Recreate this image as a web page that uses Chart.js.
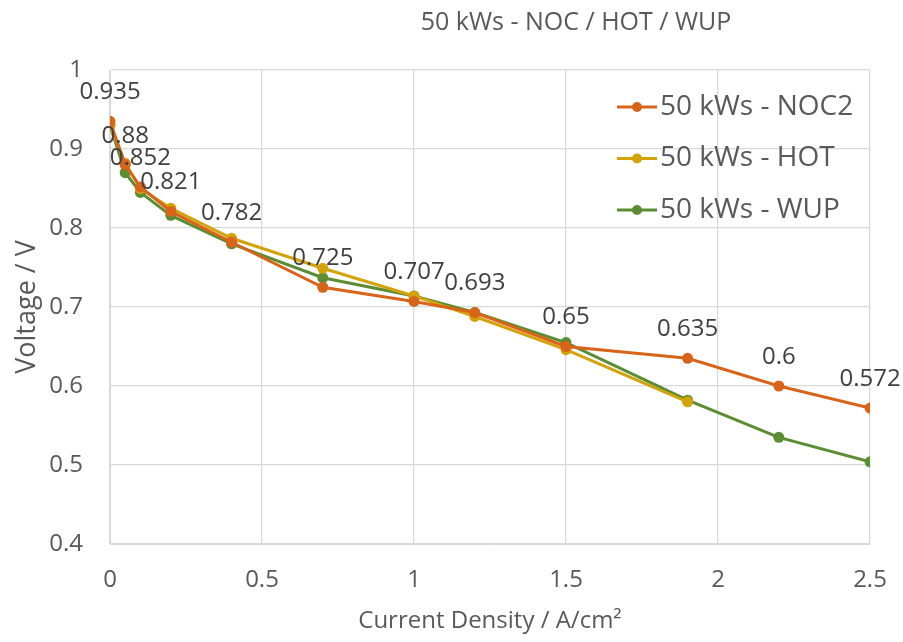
<!DOCTYPE html>
<html>
<head>
<meta charset="utf-8">
<script src="https://cdn.jsdelivr.net/npm/chart.js@4.4.1/dist/chart.umd.min.js"></script>
<style>
  html, body { margin: 0; padding: 0; background: #fff; }
  #wrap { width: 903px; height: 642px; }
</style>
</head>
<body>
<div id="wrap"><canvas id="polCurve"></canvas></div>
<script>
// polarisation curves, 50 kWs runs
const noc2Current = [0, 0.05, 0.1, 0.2, 0.4, 0.7, 1, 1.2, 1.5, 1.9, 2.2, 2.5];
const noc2Voltage = [0.935, 0.88, 0.852, 0.821, 0.782, 0.725, 0.707, 0.693, 0.65, 0.635, 0.6, 0.572];

const hotCurrent = [0, 0.05, 0.1, 0.2, 0.4, 0.7, 1, 1.2, 1.5, 1.9];
const hotVoltage = [0.93, 0.882, 0.85, 0.825, 0.787, 0.749, 0.714, 0.688, 0.646, 0.58];

const wupCurrent = [0, 0.05, 0.1, 0.2, 0.4, 0.7, 1, 1.2, 1.5, 1.9, 2.2, 2.5];
const wupVoltage = [0.93, 0.87, 0.845, 0.816, 0.78, 0.737, 0.714, 0.693, 0.655, 0.582, 0.535, 0.504];

const seriesNames = ["50 kWs - NOC2", "50 kWs - HOT", "50 kWs - WUP"];
const chartTitle = "50 kWs - NOC / HOT / WUP";
const xTitle = "Current Density / A/cm²";
const yTitle = "Voltage / V";

const FONT = "'Open Sans', sans-serif";
const TEXT = "#595959";
const GRID = "#d9d9d9";

const toPoints = (xs, ys) => xs.map((x, i) => ({ x: x, y: ys[i] }));
const fmt = (v) => String(+v.toFixed(3));

function series(label, data, color) {
  return {
    label: label,
    data: data,
    borderColor: color,
    backgroundColor: color,
    borderWidth: 3,
    pointRadius: 5.5,
    pointHoverRadius: 5.5,
    pointBorderWidth: 0,
    showLine: true,
    tension: 0,
  };
}

// value labels on the NOC2 curve
const valueLabels = {
  id: "valueLabels",
  afterDatasetsDraw(chart) {
    const ctx = chart.ctx;
    const meta = chart.getDatasetMeta(0);
    ctx.save();
    ctx.font = "24px " + FONT;
    ctx.fillStyle = "#404040";
    ctx.textAlign = "center";
    ctx.textBaseline = "middle";
    meta.data.forEach((pt, i) => {
      ctx.fillText(fmt(noc2Voltage[i]), pt.x, pt.y - 29);
    });
    ctx.restore();
  },
};

// legend inside the plot, top right
const innerLegend = {
  id: "innerLegend",
  afterDraw(chart) {
    const ctx = chart.ctx;
    const area = chart.chartArea;
    const x0 = area.right - 253;
    ctx.save();
    ctx.font = "28px " + FONT;
    ctx.textBaseline = "middle";
    chart.data.datasets.forEach((ds, i) => {
      const y = area.top + 37 + i * 51.5;
      ctx.strokeStyle = ds.borderColor;
      ctx.lineWidth = 3;
      ctx.beginPath();
      ctx.moveTo(x0, y);
      ctx.lineTo(x0 + 40, y);
      ctx.stroke();
      ctx.fillStyle = ds.borderColor;
      ctx.beginPath();
      ctx.arc(x0 + 20, y, 5, 0, Math.PI * 2);
      ctx.fill();
      ctx.fillStyle = TEXT;
      ctx.fillText(ds.label, x0 + 43, y);
    });
    ctx.restore();
  },
};

// chart title, drawn over the right half
const topTitle = {
  id: "topTitle",
  afterDraw(chart) {
    const ctx = chart.ctx;
    const area = chart.chartArea;
    ctx.save();
    ctx.font = "25px " + FONT;
    ctx.fillStyle = TEXT;
    ctx.textAlign = "center";
    ctx.textBaseline = "middle";
    ctx.fillText(chartTitle, (area.left + area.right) / 2 + 86, 23);
    ctx.restore();
  },
};

new Chart(document.getElementById("polCurve"), {
  type: "scatter",
  data: {
    datasets: [
      series(seriesNames[0], toPoints(noc2Current, noc2Voltage), "#d8641a"),
      series(seriesNames[1], toPoints(hotCurrent, hotVoltage), "#d4a20b"),
      series(seriesNames[2], toPoints(wupCurrent, wupVoltage), "#5b8d33"),
    ],
  },
  options: {
    responsive: true,
    maintainAspectRatio: false,
    animation: false,
    layout: { padding: { top: 70, right: 33, left: 0, bottom: 0 } },
    plugins: {
      legend: { display: false },
      title: { display: false },
      tooltip: { enabled: false },
    },
    scales: {
      x: {
        type: "linear",
        min: 0,
        max: 2.5,
        afterFit: (scale) => {
          scale.height = 98;
          scale.paddingLeft = 0;
          scale.paddingRight = 0;
        },
        ticks: {
          stepSize: 0.5,
          color: TEXT,
          font: { family: FONT, size: 24 },
          padding: 22,
          maxRotation: 0,
          callback: (v) => fmt(v),
        },
        grid: { color: GRID, lineWidth: 1.3, drawTicks: false },
        border: { color: GRID },
        title: {
          display: true,
          text: xTitle,
          color: TEXT,
          font: { family: FONT, size: 24 },
          padding: { top: 0, bottom: 6 },
        },
      },
      y: {
        type: "linear",
        min: 0.4,
        max: 1,
        afterFit: (scale) => { scale.width = 110; },
        ticks: {
          stepSize: 0.1,
          color: TEXT,
          font: { family: FONT, size: 24 },
          padding: 27,
          callback: (v) => fmt(v),
        },
        grid: { color: GRID, lineWidth: 1.3, drawTicks: false },
        border: { color: GRID },
        title: {
          display: true,
          text: yTitle,
          color: TEXT,
          font: { family: FONT, size: 27 },
          padding: { top: 11, bottom: 0 },
        },
      },
    },
  },
  plugins: [valueLabels, innerLegend, topTitle],
});
</script>
</body>
</html>
